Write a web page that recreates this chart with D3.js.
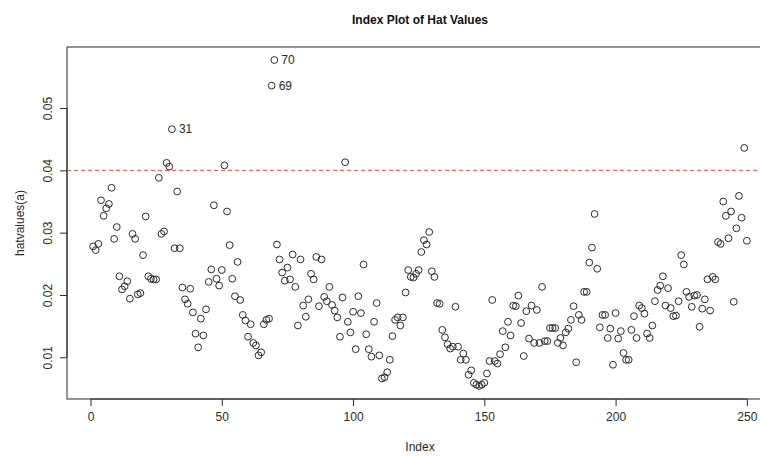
<!DOCTYPE html>
<html>
<head>
<meta charset="utf-8">
<script src="https://cdn.jsdelivr.net/npm/d3@7"></script>
<style>
  html, body { margin: 0; padding: 0; background: #fff; }
  svg { display: block; font-family: "Liberation Sans", Arial, sans-serif; }
</style>
</head>
<body>
<svg id="chart" width="760" height="457"></svg>
<script>
const hatValues = [
  0.0278, 0.0272, 0.0282, 0.0352, 0.0327, 0.0339, 0.0346, 0.0372, 0.0290, 0.0309,
  0.0230, 0.0209, 0.0214, 0.0222, 0.0194, 0.0298, 0.0290, 0.0201, 0.0203, 0.0264,
  0.0326, 0.0230, 0.0226, 0.0225, 0.0225, 0.0388, 0.0298, 0.0302, 0.0412, 0.0406,
  0.0466, 0.0275, 0.0366, 0.0275, 0.0212, 0.0193, 0.0186, 0.0210, 0.0172, 0.0138,
  0.0116, 0.0162, 0.0135, 0.0177, 0.0221, 0.0241, 0.0344, 0.0226, 0.0215, 0.0240,
  0.0408, 0.0334, 0.0280, 0.0226, 0.0198, 0.0253, 0.0192, 0.0168, 0.0159, 0.0133,
  0.0153, 0.0123, 0.0119, 0.0103, 0.0108, 0.0153, 0.0160, 0.0162, 0.0536, 0.0577,
  0.0281, 0.0257, 0.0236, 0.0223, 0.0244, 0.0225, 0.0265, 0.0213, 0.0151, 0.0257,
  0.0183, 0.0165, 0.0193, 0.0234, 0.0225, 0.0261, 0.0182, 0.0257, 0.0197, 0.0190,
  0.0213, 0.0184, 0.0175, 0.0164, 0.0133, 0.0196, 0.0413, 0.0157, 0.0140, 0.0173,
  0.0113, 0.0198, 0.0171, 0.0249, 0.0137, 0.0113, 0.0101, 0.0157, 0.0187, 0.0103,
  0.0066, 0.0068, 0.0076, 0.0096, 0.0134, 0.0160, 0.0164, 0.0151, 0.0164, 0.0204,
  0.0240, 0.0229, 0.0228, 0.0234, 0.0240, 0.0269, 0.0288, 0.0281, 0.0301, 0.0238,
  0.0229, 0.0187, 0.0186, 0.0144, 0.0132, 0.0121, 0.0114, 0.0117, 0.0181, 0.0117,
  0.0096, 0.0106, 0.0096, 0.0072, 0.0079, 0.0059, 0.0056, 0.0054, 0.0056, 0.0059,
  0.0074, 0.0094, 0.0192, 0.0094, 0.0090, 0.0105, 0.0142, 0.0116, 0.0157, 0.0135,
  0.0183, 0.0182, 0.0199, 0.0155, 0.0102, 0.0174, 0.0130, 0.0183, 0.0123, 0.0176,
  0.0123, 0.0213, 0.0126, 0.0126, 0.0147, 0.0147, 0.0147, 0.0123, 0.0131, 0.0119,
  0.0140, 0.0146, 0.0160, 0.0182, 0.0092, 0.0168, 0.0160, 0.0205, 0.0205, 0.0252,
  0.0276, 0.0330, 0.0242, 0.0148, 0.0168, 0.0168, 0.0131, 0.0146, 0.0088, 0.0171,
  0.0130, 0.0142, 0.0107, 0.0096, 0.0096, 0.0144, 0.0166, 0.0131, 0.0183, 0.0179,
  0.0170, 0.0138, 0.0131, 0.0151, 0.0190, 0.0208, 0.0215, 0.0230, 0.0183, 0.0211,
  0.0179, 0.0166, 0.0167, 0.0190, 0.0264, 0.0249, 0.0205, 0.0197, 0.0181, 0.0199,
  0.0200, 0.0149, 0.0178, 0.0193, 0.0225, 0.0175, 0.0229, 0.0225, 0.0285, 0.0282,
  0.0350, 0.0327, 0.0291, 0.0334, 0.0189, 0.0307, 0.0359, 0.0324, 0.0436, 0.0287
];
const labelledIds = [31, 69, 70];
const xTicks = [0, 50, 100, 150, 200, 250];
const yTicks = [0.01, 0.02, 0.03, 0.04, 0.05];
const cutoff = 0.04;
const titleText = "Index Plot of Hat Values";
const xLabel = "Index";
const yLabel = "hatvalues(a)";

(function () {
const data = hatValues.map((v, i) => ({ index: i + 1, value: v }));

const svg = d3.select("#chart");
const pL = 67, pR = 773, pT = 47, pB = 399;
const ink = "#2a2a2a";

const n = data.length;
const xPad = (n - 1) * 0.04;
const x = d3.scaleLinear().domain([1 - xPad, n + xPad]).range([pL, pR]);
const yMin = d3.min(hatValues), yMax = d3.max(hatValues);
const yPad = (yMax - yMin) * 0.04;
const y = d3.scaleLinear().domain([yMin - yPad, yMax + yPad]).range([pB, pT]);

// Title
svg.append("text")
  .attr("x", (pL + pR) / 2).attr("y", 24)
  .attr("text-anchor", "middle")
  .attr("font-size", 12).attr("font-weight", "bold").attr("fill", "#111")
  .text(titleText);

svg.append("defs").append("clipPath").attr("id", "clip")
  .append("rect").attr("x", pL).attr("y", pT).attr("width", pR - pL).attr("height", pB - pT);

// Box
svg.append("rect")
  .attr("x", pL).attr("y", pT).attr("width", pR - pL).attr("height", pB - pT)
  .attr("fill", "none").attr("stroke", ink).attr("stroke-width", 1);

// Axes
const xAxis = d3.axisBottom(x).tickValues(xTicks).tickSize(7).tickPadding(6).tickFormat(d3.format("d"));
const gx = svg.append("g").attr("transform", `translate(0,${pB})`).call(xAxis);
gx.select(".domain").attr("d", `M${x(xTicks[0])},0H${x(xTicks[xTicks.length - 1])}`).attr("stroke", ink);
gx.selectAll(".tick line").attr("stroke", ink);
gx.selectAll(".tick text").attr("font-size", 12).attr("fill", ink)
  .attr("font-family", "Liberation Sans, Arial, sans-serif");

const yAxis = d3.axisLeft(y).tickValues(yTicks).tickSize(7).tickFormat(d3.format(".2f"));
const gy = svg.append("g").attr("transform", `translate(${pL},0)`).call(yAxis);
gy.select(".domain").attr("d", `M0,${y(yTicks[0])}V${y(yTicks[yTicks.length - 1])}`).attr("stroke", ink);
gy.selectAll(".tick line").attr("stroke", ink);
gy.selectAll(".tick text")
  .attr("font-size", 12).attr("fill", ink)
  .attr("font-family", "Liberation Sans, Arial, sans-serif")
  .attr("x", null).attr("dy", null)
  .attr("text-anchor", "middle")
  .attr("transform", "translate(-15,0) rotate(-90)");

// Axis titles
svg.append("text")
  .attr("x", (pL + pR) / 2).attr("y", 451)
  .attr("text-anchor", "middle").attr("font-size", 12).attr("fill", ink)
  .text(xLabel);
svg.append("text")
  .attr("transform", `translate(24,${(pT + pB) / 2}) rotate(-90)`)
  .attr("text-anchor", "middle").attr("font-size", 12).attr("fill", ink)
  .text(yLabel);

const plot = svg.append("g").attr("clip-path", "url(#clip)");

// Cutoff line
plot.append("line")
  .attr("x1", pL).attr("x2", pR)
  .attr("y1", y(cutoff)).attr("y2", y(cutoff))
  .attr("stroke", "#e0483e").attr("stroke-width", 1)
  .attr("stroke-dasharray", "4,3");

// Points
plot.selectAll("circle").data(data).enter().append("circle")
  .attr("cx", d => x(d.index)).attr("cy", d => y(d.value))
  .attr("r", 3.4).attr("fill", "none").attr("stroke", ink).attr("stroke-width", 1);

// Labels
svg.selectAll("text.pt").data(data.filter(d => labelledIds.includes(d.index))).enter()
  .append("text").attr("class", "pt")
  .attr("x", d => x(d.index) + 7).attr("y", d => y(d.value))
  .attr("dy", "0.35em").attr("font-size", 12).attr("fill", ink)
  .text(d => d.index);
})();
</script>
</body>
</html>
